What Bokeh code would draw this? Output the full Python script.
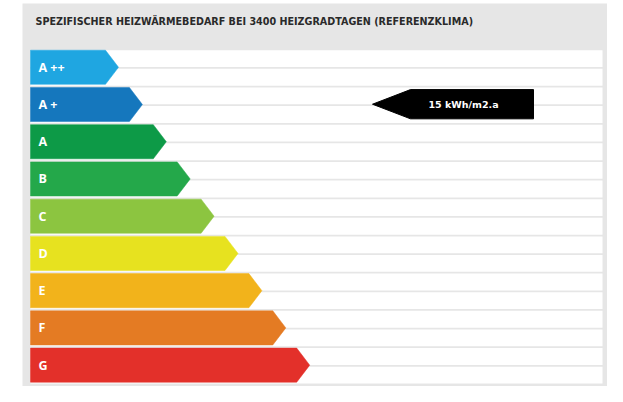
from bokeh.plotting import figure
from bokeh.models import Range1d, ColumnDataSource, Label
from bokeh.core.properties import value
from bokeh.embed import file_html
from bokeh.resources import INLINE

# ---- data ----
title_text = "SPEZIFISCHER HEIZWÄRMEBEDARF BEI 3400 HEIZGRADTAGEN (REFERENZKLIMA)"
categories = ["A ++", "A +", "A", "B", "C", "D", "E", "F", "G"]
colors = ["#1fa6e1", "#1577bd", "#0d9a47", "#24a84a", "#8cc540",
          "#e7e21f", "#f2b31b", "#e47b23", "#e3302a"]
marker_label = "15 kWh/m2.a"
marker_row = 1.45  # position in class rows (between A+ and A)

# ---- layout constants (reference pixels) ----
W, H = 607, 386
row_top0, row_pitch, bar_h = 53.0, 38.2, 35.0
bar_left, tip0, tip_step, tip_depth = 30.0, 118.0, 23.9, 13.0

p = figure(width=W, height=H, output_backend="svg", toolbar_location=None,
           x_range=Range1d(0, W), y_range=Range1d(398, 2),
           x_axis_type=None, y_axis_type=None, min_border=0,
           outline_line_color=None, background_fill_color="white",
           border_fill_color="white")
p.grid.visible = False

# panel
p.quad(left=[22], right=[610], top=[5], bottom=[402], fill_color="#e6e6e6", line_color=None)

# stripes
n_str = 2 * len(categories)
st_top = [row_top0 + j * row_pitch / 2 for j in range(n_str)]
p.quad(left=[bar_left] * n_str, right=[602] * n_str, top=st_top,
       bottom=[t + row_pitch / 2 - 1.8 for t in st_top], fill_color="white", line_color=None)

# bars
xs, ys, cy = [], [], []
for i, c in enumerate(categories):
    top = row_top0 + i * row_pitch
    bot = top + bar_h
    mid = (top + bot) / 2
    tip = tip0 + tip_step * i
    xs.append([bar_left, tip - tip_depth, tip, tip - tip_depth, bar_left])
    ys.append([top, top, mid, bot, bot])
    cy.append(mid)
src = ColumnDataSource(dict(xs=xs, ys=ys, color=colors, cat=categories,
                            x=[bar_left + 8] * len(categories), y=cy))
p.patches("xs", "ys", source=src, fill_color="color", line_color="color", line_width=0.5)
p.text(x="x", y="y", text="cat", source=src, text_color="white",
       text_font=value("Open Sans"), text_font_style="bold", text_font_size="12.5px",
       text_baseline="middle", text_align="left")

# marker arrow
my = row_top0 + marker_row * row_pitch
mx_tip, mx_body, mx_right, mh = 372.0, 410.0, 533.0, 15.0
p.patch(x=[mx_tip, mx_body, mx_right, mx_right, mx_body],
        y=[my, my - mh, my - mh, my + mh, my + mh], fill_color="black", line_color="black")
p.text(x=[463], y=[my], text=[marker_label], text_color="white",
       text_font=value("DejaVu Sans"), text_font_style="bold", text_font_size="9.5px",
       text_baseline="middle", text_align="center")

# title
p.add_layout(Label(x=35, y=24, text=title_text, text_color="#2a2a2a",
                   text_font="DejaVu Sans", text_font_style="bold", text_font_size="9.6px",
                   text_baseline="middle"))

open("out.html", "w").write(file_html(p, INLINE))
